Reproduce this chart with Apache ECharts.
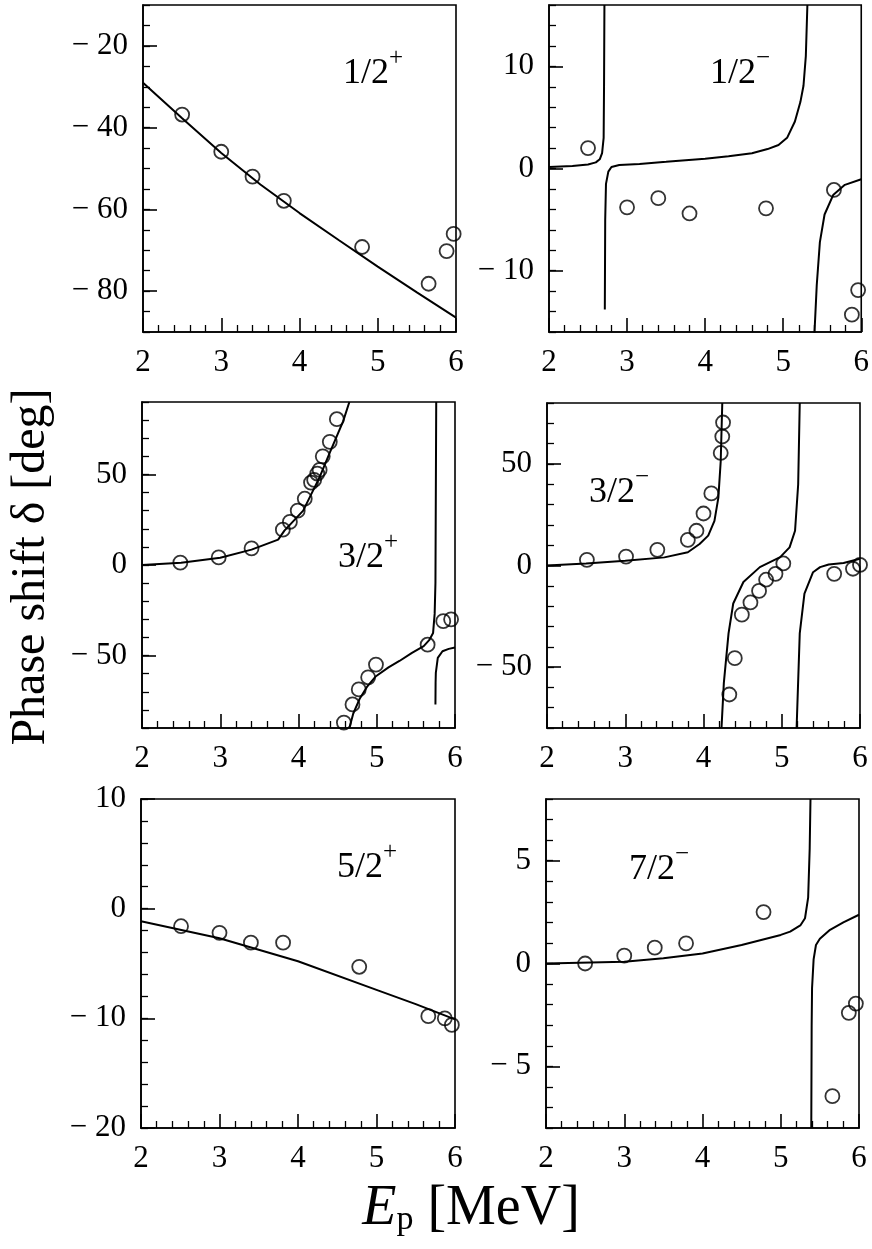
<!DOCTYPE html>
<html>
<head>
<meta charset="utf-8">
<script src="https://cdn.jsdelivr.net/npm/echarts@6/dist/echarts.min.js"></script>
<style>
  html, body { margin: 0; padding: 0; background: #fff; }
  #chart-container { width: 872px; height: 1249px; }
</style>
</head>
<body>
<div id="chart-container"></div>
<script>
var chartDom = document.getElementById('chart-container');
var myChart = echarts.init(chartDom);

// panel labels (J and parity)
var spins = ['1/2', '1/2', '3/2', '3/2', '5/2', '7/2'];
var parities = ['+', '\u2212', '+', '\u2212', '+', '\u2212'];

// y ranges, labelled ticks and minor step per panel
var yRanges = [[-90, -10], [-16, 16], [-90, 90], [-80, 80], [-20, 10], [-8, 8]];
var yMajor = [[-80, -60, -40, -20], [-10, 0, 10], [-50, 0, 50], [-50, 0, 50], [-20, -10, 0, 10], [-5, 0, 5]];
var yMinorStep = [5, 2, 10, 10, 2, 1];

// 1/2+
var exp12p = [[2.5, -36.8], [3.0, -45.9], [3.4, -52], [3.8, -57.9], [4.8, -69.2], [5.65, -78.2], [5.88, -70.2], [5.97, -66]];
var fit12p = [[[2, -29], [2.5, -37.7], [3, -46.2], [3.5, -53.9], [4, -60.9], [4.5, -67.5], [5, -74], [5.5, -80.3], [6, -86.5]]];

// 1/2-
var exp12m = [[2.5, 2], [3.0, -3.8], [3.4, -2.9], [3.8, -4.4], [4.78, -3.9], [5.65, -2.1], [5.88, -14.3], [5.96, -11.9]];
var fit12m = [
  [[2, 0.15], [2.3, 0.25], [2.5, 0.4], [2.6, 0.6], [2.65, 0.9], [2.68, 1.5], [2.7, 3], [2.705, 8], [2.71, 16]],
  [[2.715, -13.8], [2.72, -5], [2.73, -1.5], [2.76, -0.3], [2.8, 0.15], [2.9, 0.35], [3.16, 0.45], [3.5, 0.65], [4.0, 0.95], [4.3, 1.2], [4.6, 1.5], [4.8, 1.9], [4.94, 2.3], [5.05, 3], [5.15, 4.6], [5.22, 6.5], [5.26, 8.1], [5.29, 11], [5.31, 16]],
  [[5.40, -16.2], [5.42, -13], [5.43, -11.4], [5.47, -7.2], [5.53, -4.5], [5.64, -2.6], [5.79, -1.6], [6, -1.05]]
];

// 3/2+
var exp32p = [[2.49, 1.3], [2.98, 4.2], [3.4, 9.2], [3.8, 19.5], [3.89, 23.8], [3.99, 30], [4.08, 36.6], [4.16, 45.5], [4.2, 47], [4.24, 50.5], [4.27, 52.5], [4.31, 60], [4.4, 68], [4.49, 80.5],
  [4.58, -87], [4.69, -77], [4.77, -68.7], [4.89, -62], [4.99, -55], [5.65, -44], [5.85, -31], [5.95, -30]];
var fit32p = [
  [[2, 0], [2.5, 1.2], [3, 4], [3.4, 8.5], [3.74, 14], [3.82, 19], [4.06, 30], [4.27, 48.5], [4.4, 62], [4.57, 79.3], [4.65, 90]],
  [[4.65, -90], [4.7, -82], [4.78, -74], [4.88, -67], [4.99, -61.4], [5.15, -56.5], [5.29, -53], [5.45, -48.5], [5.6, -44.8], [5.67, -41.5], [5.72, -37.5], [5.74, -27], [5.75, -10], [5.76, 90]],
  [[5.75, -77], [5.752, -65], [5.755, -59.5], [5.78, -51.3], [5.84, -47.6], [5.92, -46.3], [6, -45.5]]
];

// 3/2-
var exp32m = [[2.51, 2.8], [3.01, 4.4], [3.41, 7.7], [3.8, 12.6], [3.91, 17.1], [4.0, 25.6], [4.1, 35.5], [4.22, 55.4], [4.24, 63.5], [4.25, 70.4],
  [4.33, -63.5], [4.4, -45.6], [4.49, -24.2], [4.6, -18.2], [4.71, -12.5], [4.8, -7], [4.92, -4.1], [5.02, 1], [5.67, -4.1], [5.91, -1.6], [6.0, 0.3]];
var fit32m = [
  [[2, 0], [2.5, 1], [3, 2.3], [3.5, 4], [3.8, 6.5], [3.95, 10.6], [4.06, 14.7], [4.14, 22], [4.19, 33.4], [4.22, 51.3], [4.24, 80]],
  [[4.23, -80], [4.26, -57.8], [4.32, -33.4], [4.38, -18.7], [4.51, -8.1], [4.72, -0.8], [4.98, 4.1], [5.1, 8.9], [5.17, 17.1], [5.21, 40], [5.23, 80]],
  [[5.19, -80], [5.23, -33.4], [5.29, -13.8], [5.4, -3.3], [5.49, -0.8], [5.6, 0.5], [5.79, 1.2], [6, 3.3]]
];

// 5/2+
var exp52p = [[2.51, -1.6], [3.0, -2.2], [3.4, -3.1], [3.81, -3.1], [4.78, -5.3], [5.66, -9.8], [5.87, -10], [5.96, -10.6]];
var fit52p = [[[2, -1.15], [3, -2.7], [4, -4.8], [5, -7.4], [5.5, -8.7], [6, -10.1]]];

// 7/2-
var exp72m = [[2.5, 0], [3.0, 0.38], [3.39, 0.77], [3.79, 0.98], [4.78, 2.5], [5.66, -6.45], [5.87, -2.4], [5.96, -1.95]];
var fit72m = [
  [[2, 0], [3, 0.08], [3.5, 0.25], [4, 0.49], [4.5, 0.9], [5, 1.39], [5.12, 1.55], [5.25, 1.85], [5.31, 2.2], [5.35, 3.2], [5.37, 5.6], [5.38, 8]],
  [[5.39, -8], [5.395, -3], [5.4, -1.2], [5.42, 0.2], [5.45, 0.9], [5.5, 1.2], [5.63, 1.64], [5.8, 2], [6, 2.37]]
];

var expData = [exp12p, exp12m, exp32p, exp32m, exp52p, exp72m];
var fitData = [fit12p, fit12m, fit32p, fit32m, fit52p, fit72m];

// layout (pixels): grid boxes and panel-label [left, baseline]
var boxes = [[143, 5, 313, 327], [549, 5, 314, 327], [142, 402, 313, 326], [547, 403, 313, 325], [141, 799, 314, 329], [546, 799, 313, 329]];
var labelPos = [[343, 86], [710, 86], [338, 570], [589, 505], [337, 880], [629, 882]];

var font = 'Liberation Serif';
var black = '#000';

function fmt(v) {
  return v < 0 ? '\u2212 ' + (-v) : String(v);
}

var grids = [], xAxes = [], yAxes = [], series = [], graphics = [];

for (var i = 0; i < 6; i++) {
  var b = boxes[i];
  grids.push({
    left: b[0], top: b[1], width: b[2], height: b[3],
    show: true, borderColor: black, borderWidth: 1.6, backgroundColor: 'transparent'
  });
  xAxes.push({
    gridIndex: i, type: 'value', min: 2, max: 6, interval: 1,
    axisLine: { show: true, onZero: false, lineStyle: { color: black, width: 1.6 } },
    axisTick: { inside: true, length: 14, lineStyle: { color: black, width: 1.6 } },
    minorTick: { show: true, splitNumber: 5, length: 7, lineStyle: { color: black, width: 1.3 } },
    splitLine: { show: false },
    axisLabel: { margin: 15, color: black, fontFamily: font, fontSize: 31 }
  });
  // minor ticks
  yAxes.push({
    gridIndex: i, type: 'value', position: 'left', offset: 0,
    min: yRanges[i][0], max: yRanges[i][1], interval: yMinorStep[i],
    axisLine: { show: true, onZero: false, lineStyle: { color: black, width: 1.6 } },
    axisTick: { inside: true, length: 7, lineStyle: { color: black, width: 1.3 } },
    axisLabel: { show: false },
    splitLine: { show: false }
  });
  // labelled ticks
  yAxes.push({
    gridIndex: i, type: 'value', position: 'left', offset: 0,
    min: yRanges[i][0], max: yRanges[i][1],
    axisLine: { show: false },
    axisTick: { inside: true, length: 14, customValues: yMajor[i], lineStyle: { color: black, width: 1.6 } },
    axisLabel: { customValues: yMajor[i], formatter: fmt, margin: 15, color: black, fontFamily: font, fontSize: 31 },
    splitLine: { show: false }
  });

  fitData[i].forEach(function (seg) {
    series.push({
      type: 'line', xAxisIndex: i, yAxisIndex: 2 * i, data: seg,
      showSymbol: false, smooth: false, clip: true,
      lineStyle: { color: black, width: 2 }
    });
  });
  series.push({
    type: 'scatter', xAxisIndex: i, yAxisIndex: 2 * i, data: expData[i],
    symbol: 'circle', symbolSize: 14,
    itemStyle: { color: 'rgba(0,0,0,0)', borderColor: black, borderWidth: 1.8 }
  });

  var lp = labelPos[i];
  graphics.push({
    type: 'text', x: lp[0], y: lp[1] - 40,
    style: {
      text: '{b|' + spins[i] + '}{s|' + parities[i] + '}',
      align: 'left', verticalAlign: 'top',
      rich: {
        b: { fontFamily: font, fontSize: 36, lineHeight: 56, fill: black, color: black },
        s: { fontFamily: font, fontSize: 25, lineHeight: 24, verticalAlign: 'top', fill: black, color: black }
      }
    }
  });
}

graphics.push({
  type: 'text', x: 31, y: 567, rotation: Math.PI / 2,
  style: { text: 'Phase shift \u03b4 [deg]', font: '48px "Liberation Serif"', fill: black, align: 'center', verticalAlign: 'middle' }
});
graphics.push({
  type: 'text', x: 471, y: 1227 - 46,
  style: {
    text: '{e|E}{p|p}{t| [MeV]}',
    align: 'center', verticalAlign: 'top',
    rich: {
      e: { fontFamily: font, fontStyle: 'italic', fontSize: 56, lineHeight: 56, fill: black, color: black },
      p: { fontFamily: font, fontSize: 34, lineHeight: 30, verticalAlign: 'bottom', fill: black, color: black },
      t: { fontFamily: font, fontSize: 56, lineHeight: 56, fill: black, color: black }
    }
  }
});

var option = {
  animation: false,
  backgroundColor: '#fff',
  grid: grids,
  xAxis: xAxes,
  yAxis: yAxes,
  series: series,
  graphic: graphics
};

option && myChart.setOption(option);
</script>
</body>
</html>
